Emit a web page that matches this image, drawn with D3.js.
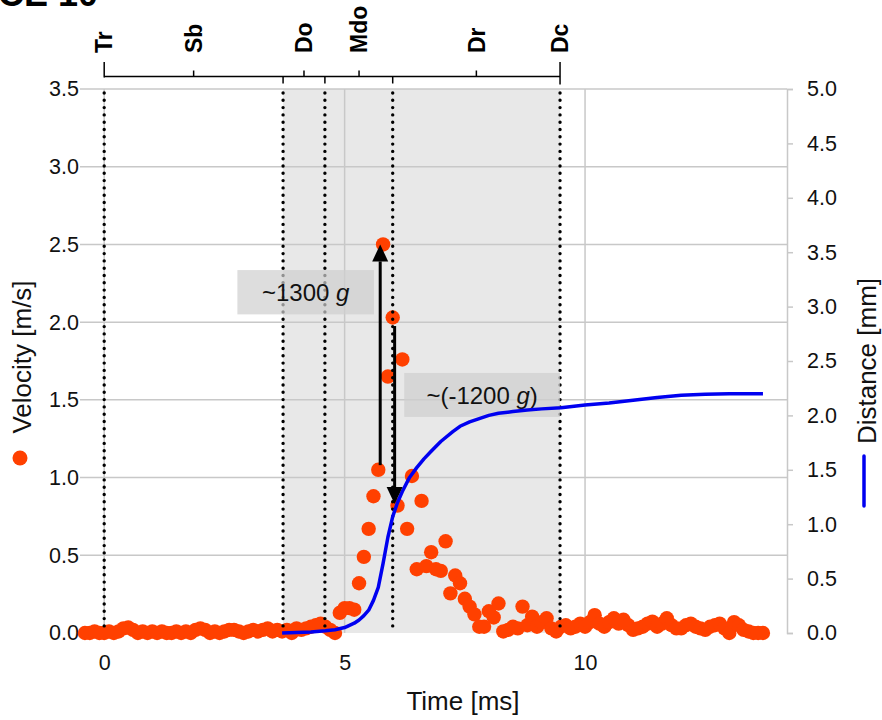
<!DOCTYPE html>
<html><head><meta charset="utf-8">
<script src="https://cdn.jsdelivr.net/npm/d3@7"></script>
<style>
html,body{margin:0;padding:0;background:#fff;}
svg{display:block;font-family:"Liberation Sans",Arial,sans-serif;}
</style></head>
<body><svg id="chart" width="882" height="720"></svg>
<script>
// ---- data ----
const timeMs = [-0.4,-0.3,-0.2,-0.1,0.0,0.1,0.2,0.3,0.4,0.5,0.6,0.7,0.8,0.9,1.0,1.1,1.2,1.3,1.4,1.5,1.6,1.7,1.8,1.9,2.0,2.1,2.2,2.3,2.4,2.5,2.6,2.7,2.8,2.9,3.0,3.1,3.2,3.3,3.4,3.5,3.6,3.7,3.8,3.9,4.0,4.1,4.2,4.3,4.4,4.5,4.6,4.7,4.8,4.9,5.0,5.1,5.2,5.3,5.4,5.5,5.6,5.7,5.8,5.9,6.0,6.1,6.2,6.3,6.4,6.5,6.6,6.7,6.8,6.9,7.0,7.1,7.2,7.3,7.4,7.5,7.6,7.7,7.8,7.9,8.0,8.1,8.2,8.3,8.4,8.5,8.6,8.7,8.8,8.9,9.0,9.1,9.2,9.3,9.4,9.5,9.6,9.7,9.8,9.9,10.0,10.1,10.2,10.3,10.4,10.5,10.6,10.7,10.8,10.9,11.0,11.1,11.2,11.3,11.4,11.5,11.6,11.7,11.8,11.9,12.0,12.1,12.2,12.3,12.4,12.5,12.6,12.7,12.8,12.9,13.0,13.1,13.2,13.3,13.4,13.5,13.6,13.7];
const velocity = [0,0,0.01,0,0,0.01,0,0.01,0.03,0.035,0.02,0,0.01,0,0.01,0,0.01,0,0,0.01,0,0.01,0,0.02,0.03,0.02,0,0.01,0,0.01,0.02,0.02,0.01,0,0.01,0.02,0.01,0.02,0.03,0.01,0.02,0.01,0.02,0,0.03,0.02,0.03,0.04,0.05,0.06,0.04,0.02,0,0.13,0.16,0.16,0.15,0.32,0.49,0.67,0.88,1.05,2.50,1.65,2.03,0.82,1.76,0.67,1.01,0.41,0.85,0.43,0.52,0.41,0.40,0.59,0.255,0.37,0.32,0.22,0.17,0.12,0.04,0.04,0.14,0.10,0.19,0.01,0.02,0.04,0.03,0.17,0.05,0.105,0.04,0.07,0.095,0.03,0.01,0.04,0.05,0.03,0.04,0.06,0.04,0.07,0.115,0.06,0.04,0.07,0.095,0.06,0.085,0.05,0.02,0.03,0.04,0.06,0.073,0.04,0.06,0.095,0.05,0.03,0.03,0.05,0.06,0.04,0.03,0.02,0.04,0.05,0.06,0.03,0,0.07,0.05,0.02,0.01,0,0,0];

const distTime = [3.7,4.0,4.3,4.6,4.8,5.0,5.2,5.3,5.4,5.5,5.6,5.7,5.8,5.9,6.0,6.1,6.2,6.35,6.5,6.65,6.8,7.0,7.25,7.4,7.6,7.8,8.0,8.2,8.5,8.8,9.1,9.5,10.0,10.5,11.0,11.5,12.0,12.5,13.0,13.7];
const distance = [0,0.005,0.01,0.02,0.03,0.05,0.09,0.12,0.16,0.21,0.3,0.42,0.64,0.88,1.07,1.2,1.3,1.43,1.52,1.6,1.67,1.76,1.85,1.9,1.94,1.97,2.0,2.02,2.035,2.05,2.06,2.07,2.095,2.115,2.14,2.165,2.185,2.195,2.2,2.2];

const phaseBounds = [0, 3.72, 4.59, 6.0, 9.48];
const phaseLabels = ["Tr","Sb","Do","Mdo","Dr","Dc"];
const phaseLabelTimes = [0, 1.86, 4.155, 5.3, 7.74, 9.48];
const shadedRange = [3.72, 9.48];

const xTicks = [0, 5, 10];
const yLeftTicks = [0.0,0.5,1.0,1.5,2.0,2.5,3.0,3.5];
const yRightTicks = [0.0,0.5,1.0,1.5,2.0,2.5,3.0,3.5,4.0,4.5,5.0];

const annTexts = ["~1300 ", "~(-1200 "];
const annItalic = ["g", "g"];
const annTail = ["", ")"];
const annBoxT = [[2.77, 5.61], [6.24, 9.48]];
const annBoxV = [[2.05, 2.335], [1.39, 1.673]];
const arrowT = [5.74, 6.04];
const arrowFromV = [1.08, 1.975];
const arrowToV = [2.5, 0.83];

// ---- layout ----
const svg = d3.select("#chart");
const L = 84, R = 787, T = 89, B = 633;
const x = d3.scaleLinear().domain([-0.42, 14.2]).range([L, R]);
const y = d3.scaleLinear().domain([0, 3.5]).range([B, T]);
const y2 = d3.scaleLinear().domain([0, 5]).range([B, T]);

const ORANGE = "#ff4000", BLUE = "#0000f0", GRID = "#c8c8c8";

// title (cut off at the top, as in the original figure)
svg.append("text").attr("x", -2).attr("y", 6).attr("font-size", 36).attr("font-weight", "bold").text("CE 10");

// shaded region
svg.append("rect").attr("x", x(shadedRange[0])).attr("y", T)
  .attr("width", x(shadedRange[1]) - x(shadedRange[0])).attr("height", B - T).attr("fill", "#e8e8e8");

// grid
const gGrid = svg.append("g");
gGrid.selectAll("line.h").data(yLeftTicks.filter(d => d > 0)).join("line")
  .attr("x1", 80).attr("x2", R).attr("y1", d => y(d)).attr("y2", d => y(d))
  .attr("stroke", GRID).attr("stroke-width", 1.5);
gGrid.selectAll("line.v").data(xTicks).join("line")
  .attr("x1", d => x(d)).attr("x2", d => x(d)).attr("y1", T).attr("y2", B)
  .attr("stroke", GRID).attr("stroke-width", 1.5);
// right axis
const rAxis = svg.append("g").attr("transform", `translate(${R},0)`)
  .call(d3.axisRight(y2).tickValues(yRightTicks).tickFormat(d3.format(".1f")).tickSize(6).tickPadding(14));
rAxis.select(".domain").attr("stroke", GRID).attr("stroke-width", 1.5);
rAxis.selectAll(".tick line").attr("stroke", GRID).attr("stroke-width", 1.5);
rAxis.selectAll("text").attr("font-size", 21.5).attr("fill", "#111").attr("font-family", "Liberation Sans, Arial, sans-serif");

// left axis labels
const lAxis = svg.append("g").attr("transform", `translate(80,0)`)
  .call(d3.axisLeft(y).tickValues(yLeftTicks).tickFormat(d3.format(".1f")).tickSize(0).tickPadding(1));
lAxis.select(".domain").remove();
lAxis.selectAll("text").attr("font-size", 21.5).attr("fill", "#111").attr("font-family", "Liberation Sans, Arial, sans-serif");

// bottom axis labels
const bAxis = svg.append("g").attr("transform", `translate(0,${B})`)
  .call(d3.axisBottom(x).tickValues(xTicks).tickFormat(d3.format("d")).tickSize(0).tickPadding(22));
bAxis.select(".domain").remove();
bAxis.selectAll("text").attr("font-size", 21.5).attr("fill", "#111").attr("font-family", "Liberation Sans, Arial, sans-serif");

// velocity dots
svg.append("g").selectAll("circle").data(timeMs).join("circle")
  .attr("cx", d => x(d)).attr("cy", (d, i) => y(velocity[i])).attr("r", 7.2).attr("fill", ORANGE);

// dotted phase lines
svg.append("g").selectAll("line").data(phaseBounds).join("line")
  .attr("x1", d => x(d)).attr("x2", d => x(d)).attr("y1", T + 4).attr("y2", B)
  .attr("stroke", "#000").attr("stroke-width", 3.4).attr("stroke-linecap", "round")
  .attr("stroke-dasharray", "0 7.3");

// annotation boxes
const ann = svg.append("g");
annTexts.forEach((txt, i) => {
  const bx0 = x(annBoxT[i][0]), bx1 = x(annBoxT[i][1]);
  const by0 = y(annBoxV[i][1]), by1 = y(annBoxV[i][0]);
  ann.append("rect").attr("x", bx0).attr("y", by0).attr("width", bx1 - bx0).attr("height", by1 - by0)
    .attr("fill", "#cfcfcf").attr("fill-opacity", 0.7);
});

// distance line
svg.append("path").datum(distTime)
  .attr("d", d3.line().x(d => x(d)).y((d, i) => y2(distance[i])))
  .attr("fill", "none").attr("stroke", BLUE).attr("stroke-width", 3.5).attr("stroke-linejoin", "round");

// annotation text
annTexts.forEach((txt, i) => {
  const bx0 = x(annBoxT[i][0]), bx1 = x(annBoxT[i][1]);
  const by0 = y(annBoxV[i][1]), by1 = y(annBoxV[i][0]);
  const t = ann.append("text").attr("x", (bx0 + bx1) / 2).attr("y", (by0 + by1) / 2)
    .attr("dy", "0.36em").attr("text-anchor", "middle").attr("font-size", 24).attr("fill", "#111");
  t.append("tspan").text(txt);
  t.append("tspan").attr("font-style", "italic").text(annItalic[i]);
  if (annTail[i]) t.append("tspan").text(annTail[i]);
});

// arrows
const arr = svg.append("g");
arrowT.forEach((t, i) => {
  const ax = x(t), a0 = y(arrowFromV[i]), a1 = y(arrowToV[i]);
  const dir = a1 < a0 ? 1 : -1; // 1 = pointing up
  const hb = a1 + dir * 17;
  arr.append("line").attr("x1", ax).attr("x2", ax).attr("y1", a0).attr("y2", hb)
    .attr("stroke", "#000").attr("stroke-width", 3);
  arr.append("path").attr("d", `M${ax},${a1}L${ax - 8},${hb}L${ax + 8},${hb}Z`).attr("fill", "#000");
});

// top phase bracket
const brk = svg.append("g").attr("stroke", "#000").attr("stroke-width", 1.5);
const yb = 76.5;
brk.append("line").attr("x1", x(phaseBounds[0])).attr("x2", x(phaseBounds[phaseBounds.length - 1])).attr("y1", yb).attr("y2", yb);
brk.selectAll("line.d").data(phaseBounds.slice(1, -1)).join("line")
  .attr("x1", d => x(d)).attr("x2", d => x(d)).attr("y1", yb).attr("y2", yb + 7);
brk.selectAll("line.u").data(phaseLabelTimes.slice(1, -1)).join("line")
  .attr("x1", d => x(d)).attr("x2", d => x(d)).attr("y1", yb).attr("y2", yb - 6);
brk.append("line").attr("x1", x(phaseBounds[0])).attr("x2", x(phaseBounds[0])).attr("y1", 62).attr("y2", yb + 1);
brk.append("line").attr("x1", x(phaseBounds[4])).attr("x2", x(phaseBounds[4])).attr("y1", 62).attr("y2", yb + 8);
svg.append("g").selectAll("text").data(phaseLabels).join("text")
  .attr("transform", (d, i) => `translate(${x(phaseLabelTimes[i])},53) rotate(-90)`)
  .attr("dy", "0.36em").attr("font-size", 23).attr("font-weight", "bold").text(d => d);

// axis titles
svg.append("text").attr("x", 463).attr("y", 710).attr("text-anchor", "middle")
  .attr("font-size", 26).attr("fill", "#111").text("Time [ms]");
svg.append("text").attr("transform", "translate(22,357) rotate(-90)").attr("text-anchor", "middle")
  .attr("dy", "0.36em").attr("font-size", 26).attr("fill", "#111").text("Velocity [m/s]");
svg.append("circle").attr("cx", 20).attr("cy", 458).attr("r", 7.5).attr("fill", ORANGE);
svg.append("text").attr("transform", "translate(867,361) rotate(-90)").attr("text-anchor", "middle")
  .attr("dy", "0.36em").attr("font-size", 26).attr("fill", "#111").text("Distance [mm]");
svg.append("line").attr("x1", 864).attr("x2", 864).attr("y1", 456).attr("y2", 506)
  .attr("stroke", BLUE).attr("stroke-width", 3.5).attr("stroke-linecap", "round");
</script></body></html>
